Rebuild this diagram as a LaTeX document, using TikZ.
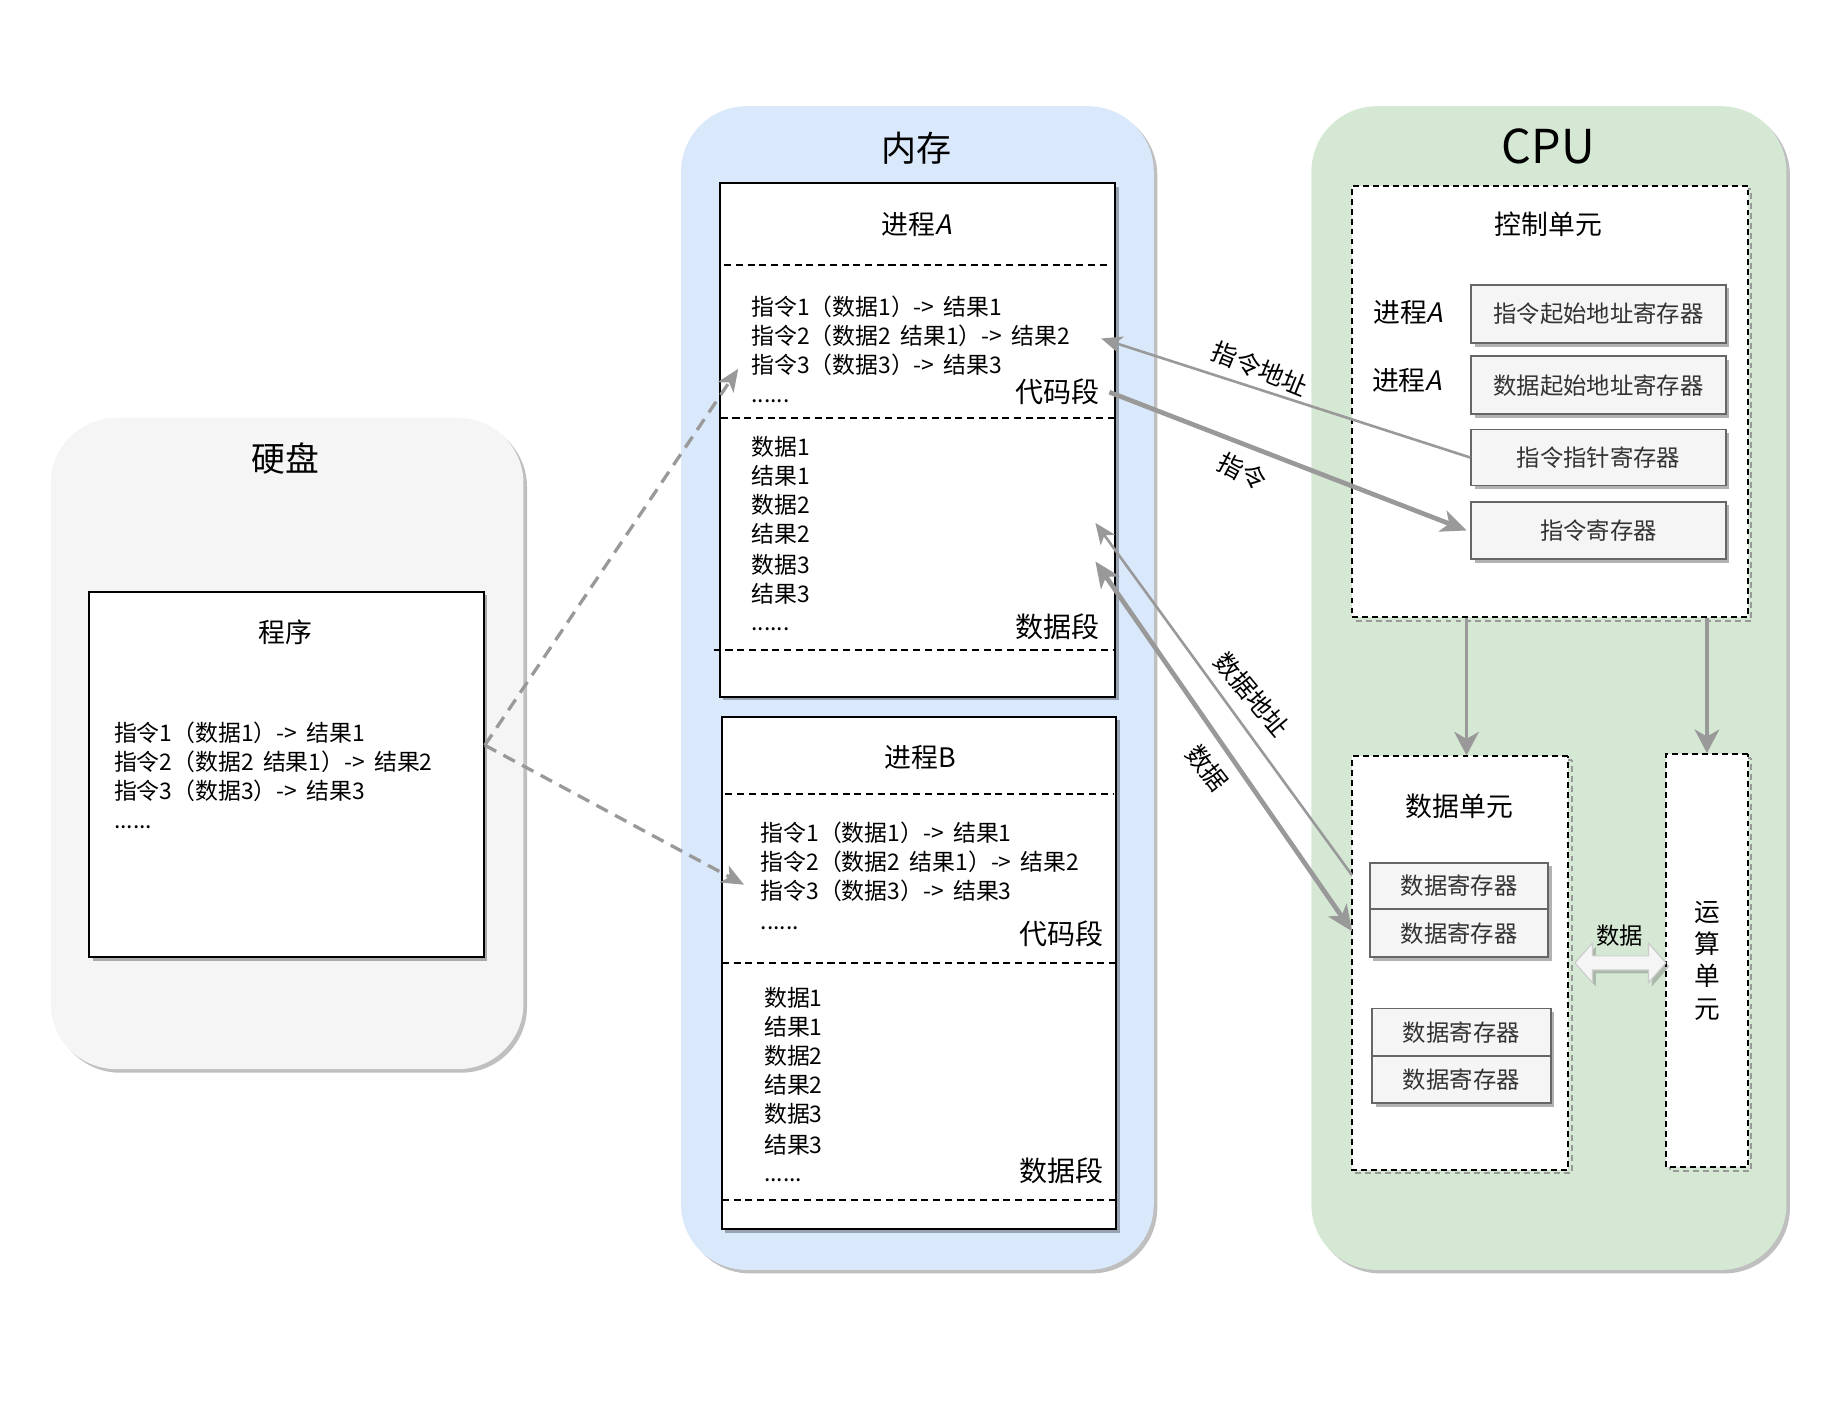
\documentclass[tikz,border=0pt]{standalone}
\usepackage{fontspec}
\setmainfont[WordSpace=1.8]{Noto Sans CJK SC}
\newfontfamily\slantfont[FakeSlant=0.2]{Noto Sans CJK SC}
\usetikzlibrary{shadows,arrows.meta,calc}
\definecolor{memblue}{HTML}{DAE8FC}
\definecolor{cpugreen}{HTML}{D5E8D4}
\definecolor{diskgray}{HTML}{F5F5F5}
\definecolor{regfill}{HTML}{F5F5F5}
\definecolor{regline}{HTML}{666666}
\definecolor{regtext}{HTML}{333333}
\definecolor{arrgray}{HTML}{999999}
\newcommand{\myfs}[2]{\fontsize{#1}{#2}\selectfont}
\tikzset{
  container/.style={rounded corners=56pt, draw=none, inner sep=0pt,
    drop shadow={shadow xshift=3pt, shadow yshift=-3pt, opacity=0.25, fill=black}},
  procbox/.style={draw=black, line width=1.8pt, fill=white, inner sep=0pt,
    drop shadow={shadow xshift=3pt, shadow yshift=-3pt, opacity=0.3, fill=black}},
  dbox/.style={draw=black, line width=1.7pt, dash pattern=on 5pt off 3.5pt, fill=white, inner sep=0pt,
    drop shadow={shadow xshift=3pt, shadow yshift=-3pt, fill=none, draw=black!40,
      line width=1.7pt, dash pattern=on 5pt off 3.5pt, opacity=1}},
  regbox/.style={draw=regline, line width=1.6pt, fill=regfill, text=regtext, inner sep=0pt,
    font=\myfs{20}{24},
    drop shadow={shadow xshift=3pt, shadow yshift=-3pt, opacity=0.3, fill=black}},
  ttl/.style={inner sep=0pt, font=\myfs{23}{28}},
  ln/.style={anchor=base west, inner sep=0pt, font=\myfs{19.6}{25}},
  seg/.style={anchor=base east, inner sep=0pt, font=\myfs{24}{28}},
  sepline/.style={draw=black, line width=1.6pt, dash pattern=on 6pt off 4pt},
  lbl/.style={inner sep=0pt, font=\myfs{21.5}{26}},
  thinarr/.style={draw=arrgray, line width=2.2pt, -{Stealth[length=18pt, width=15pt, inset=5pt]}},
  thickarr/.style={draw=arrgray, line width=4pt, -{Stealth[length=22pt, width=19pt, inset=6pt]}},
  thickboth/.style={draw=arrgray, line width=4pt, {Stealth[length=22pt, width=19pt, inset=6pt]}-{Stealth[length=22pt, width=19pt, inset=6pt]}},
  vertarr/.style={draw=arrgray, line width=3pt, -{Stealth[length=20pt, width=21pt, inset=6pt]}},
  dasharr/.style={draw=arrgray, line width=2.8pt, dash pattern=on 11pt off 7pt, -{Stealth[length=19pt, width=16pt, inset=5pt]}},
  flexarr/.style={fill=white!96!black, draw=black!20, line width=1pt,
    drop shadow={shadow xshift=3pt, shadow yshift=-3pt, opacity=0.2, fill=black}}
}
\begin{document}
\begin{tikzpicture}[x=1pt,y=-1pt]
\useasboundingbox (0,0) rectangle (1560,1195);
\fill[white] (0,0) rectangle (1560,1195);
\begin{scope}[shift={(-1.5,-2)}, scale=0.995, transform shape]

% ---------------- Disk ----------------
\node[container, fill=diskgray, minimum width=405pt, minimum height=558pt] (hd) at (247.5,639) {};
\node[inner sep=0pt, font=\myfs{29}{32}] (hdt) at (246,395) {硬盘};
\node[procbox, minimum width=338pt, minimum height=313pt] (prog) at (247,665.5) {};
\node[ttl] (progt) at (246,544) {程序};
\node[ln] (pg1) at (99,637) {指令1（数据1）-> 结果1};
\node[ln] (pg2) at (99,662) {指令2（数据2 结果1）-> 结果2};
\node[ln] (pg3) at (99,687) {指令3（数据3）-> 结果3};
\node[ln] (pg4) at (99,712) {......};

% ---------------- Memory ----------------
\node[container, fill=memblue, minimum width=405pt, minimum height=997pt] (mem) at (787.5,591.5) {};
\node[inner sep=0pt, font=\myfs{30}{34}] (memt) at (787,129) {内存};

% Process A
\node[procbox, minimum width=339pt, minimum height=440pt] (pA) at (787.5,379) {};
\node[ttl] (pAt) at (787,194) {进程{\slantfont A}};
\draw[sepline] (622,229) -- (952,229);
\node[ln] (pa1) at (645,272) {指令1（数据1）-> 结果1};
\node[ln] (pa2) at (645,297) {指令2（数据2 结果1）-> 结果2};
\node[ln] (pa3) at (645,322) {指令3（数据3）-> 结果3};
\node[ln] (pa4) at (645,347) {......};
\node[seg] (cdA) at (944,347) {代码段};
\draw[sepline] (619,360) -- (956,360);
\node[ln] (pad1) at (645,392) {数据1};
\node[ln] (pad2) at (645,417) {结果1};
\node[ln] (pad3) at (645,442) {数据2};
\node[ln] (pad4) at (645,467) {结果2};
\node[ln] (pad5) at (645,493) {数据3};
\node[ln] (pad6) at (645,518) {结果3};
\node[ln] (pad7) at (645,542) {......};
\node[seg] (sjA) at (944,548) {数据段};
\draw[sepline] (613,559) -- (955,559);

% Process B
\node[procbox, minimum width=338pt, minimum height=439pt] (pB) at (789,835.5) {};
\node[ttl] (pBt) at (790,651) {进程B};
\draw[sepline] (623,682) -- (955,682);
\node[ln] (pb1) at (653,723) {指令1（数据1）-> 结果1};
\node[ln] (pb2) at (653,748) {指令2（数据2 结果1）-> 结果2};
\node[ln] (pb3) at (653,773) {指令3（数据3）-> 结果3};
\node[ln] (pb4) at (653,798) {......};
\node[seg] (cdB) at (947,811) {代码段};
\draw[sepline] (620,827) -- (958,827);
\node[ln] (pbd1) at (656,864) {数据1};
\node[ln] (pbd2) at (656,889) {结果1};
\node[ln] (pbd3) at (656,914) {数据2};
\node[ln] (pbd4) at (656,939) {结果2};
\node[ln] (pbd5) at (656,964) {数据3};
\node[ln] (pbd6) at (656,990) {结果3};
\node[ln] (pbd7) at (656,1014) {......};
\node[seg] (sjB) at (947,1014) {数据段};
\draw[sepline] (620,1030) -- (958,1030);

% ---------------- CPU ----------------
\node[container, fill=cpugreen, minimum width=407pt, minimum height=997pt] (cpu) at (1328.5,591.5) {};
\node[inner sep=0pt, font=\myfs{40}{44}] (cput) at (1328,127) {CPU};

% Control unit
\node[dbox, minimum width=339pt, minimum height=370pt] (cu) at (1329.5,346) {};
\node[ttl] (cut) at (1328,194) {控制单元};
\node[ttl] (pl1) at (1208,270) {进程{\slantfont A}};
\node[ttl] (pl2) at (1207,328) {进程{\slantfont A}};
\node[regbox, minimum width=218pt, minimum height=50pt] (reg1) at (1371,271) {指令起始地址寄存器};
\node[regbox, minimum width=218pt, minimum height=50pt] (reg2) at (1371,332) {数据起始地址寄存器};
\node[regbox, minimum width=218pt, minimum height=48pt] (reg3) at (1371,394) {指令指针寄存器};
\node[regbox, minimum width=218pt, minimum height=49pt] (reg4) at (1371,456.5) {指令寄存器};

% Data unit
\node[dbox, minimum width=185pt, minimum height=354pt] (du) at (1252.5,827) {};
\node[ttl] (dut) at (1252,693) {数据单元};
\node[regbox, minimum width=153pt, minimum height=40pt] (dr1) at (1251.5,761) {数据寄存器};
\node[regbox, minimum width=153pt, minimum height=41pt] (dr2) at (1251.5,801.5) {数据寄存器};
\node[regbox, minimum width=153pt, minimum height=41pt] (dr3) at (1253.5,886.5) {数据寄存器};
\node[regbox, minimum width=153pt, minimum height=40pt] (dr4) at (1253.5,927) {数据寄存器};

% Arithmetic unit
\node[dbox, minimum width=70pt, minimum height=354pt, align=center, font=\myfs{22}{27.7}] (au) at (1464,825) {运\\算\\单\\元};

% ---------------- Connectors ----------------
\coordinate (tpA) at (634,318);
\coordinate (tpB) at (639,760);
\draw[dasharr] ([yshift=25pt]prog.east) -- (tpA);
\draw[dasharr] ([yshift=25pt]prog.east) -- (tpB);

\coordinate (tIA) at (945,292);
\draw[thinarr] (reg3.west) -- (tIA);
\node[lbl, rotate=-22] (lIA) at (1081,318) {指令地址};

\coordinate (sI) at (952,338);
\draw[thickarr] (sI) -- ([xshift=-3pt]reg4.west);
\node[lbl, rotate=-28] (lI) at (1066,406) {指令};

\coordinate (sDA) at (1160,752);
\coordinate (tDA) at (940,450);
\draw[thinarr] (sDA) -- (tDA);
\node[lbl, rotate=-50] (lDA) at (1074,597) {数据地址};

\coordinate (tD1) at (940,483);
\coordinate (tD2) at (1160,800);
\draw[thickboth] (tD1) -- (tD2);
\node[lbl, rotate=-52] (lD) at (1036,660) {数据};

\draw[vertarr] ([xshift=5.5pt]du.north |- cu.south) -- ([xshift=5.5pt]du.north);
\draw[vertarr] (au.north |- cu.south) -- (au.north);

\draw[flexarr] ([xshift=5pt]du.east) -- ++(15,-17) -- ++(0,11) -- ++(48,0) -- ++(0,-11)
  -- ++(15,17) -- ++(-15,17) -- ++(0,-11) -- ++(-48,0) -- ++(0,11) -- cycle;
\node[inner sep=0pt, font=\myfs{20}{24}] (dl) at (1389,804) {数据};
\end{scope}
\end{tikzpicture}
\end{document}
